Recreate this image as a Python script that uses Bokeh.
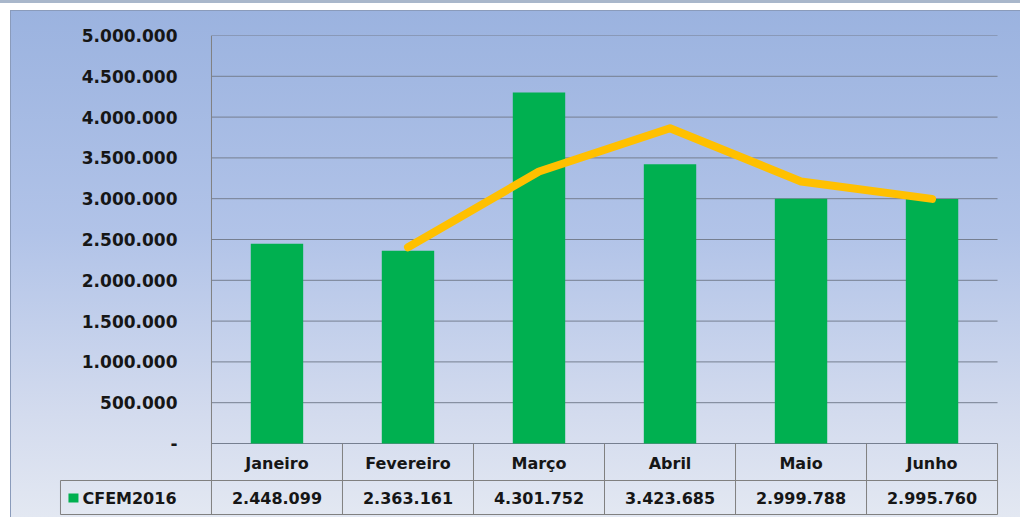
from bokeh.plotting import figure
from bokeh.models import FactorRange, Range1d, FixedTicker
from bokeh.core.properties import value
from bokeh.embed import file_html
from bokeh.resources import INLINE

# ---------------- data ----------------
months = ["Janeiro", "Fevereiro", "Março", "Abril", "Maio", "Junho"]
cfem2016 = [2448099, 2363161, 4301752, 3423685, 2999788, 2995760]
series_name = "CFEM2016"
trend_months = ["Fevereiro", "Março", "Abril", "Maio", "Junho"]
trend_values = [2405630, 3332457, 3862719, 3211737, 2997774]
y_ticks = [0, 500000, 1000000, 1500000, 2000000, 2500000,
           3000000, 3500000, 4000000, 4500000, 5000000]
y_tick_labels = ["-", "500.000", "1.000.000", "1.500.000", "2.000.000", "2.500.000",
                 "3.000.000", "3.500.000", "4.000.000", "4.500.000", "5.000.000"]


def fmt(v):
    return f"{v:,}".replace(",", ".")


# ---------------- layout constants ----------------
W, H = 1020, 517
B_LEFT, B_RIGHT, B_TOP, B_BOTTOM = 59, 2, 35, 0
COL_PX = 131.0                     # pixel width of one month column
CELL_LEFT = 1.0 - 151.0 / COL_PX   # left edge of the row-header cell (synthetic coords)
Y_END = 5000000
UPP = 5000000 / 408.0              # value units per pixel
Y_START = -74 * UPP
Y_HEADER = -37 * UPP
Y_TBOTTOM = -71 * UPP
FONT = "DejaVu Sans"
TABLE_LINE = "#808080"
GRID_LINE = "#767f90"
TXT = "#161616"

factors = [series_name] + months
n = len(months)
x_first = 1.0                      # synthetic left edge of the first month column
x_last = 1.0 + n                   # synthetic right edge of the last month column

p = figure(
    width=W, height=H,
    x_range=FactorRange(factors=factors, range_padding=0.16, range_padding_units="absolute"),
    y_range=Range1d(Y_START, Y_END),
    x_axis_location=None,
    output_backend="svg", toolbar_location=None,
    min_border_left=B_LEFT, min_border_right=B_RIGHT,
    min_border_top=B_TOP, min_border_bottom=B_BOTTOM,
)
p.styles = {
    "background": "linear-gradient(to bottom, #9ab2df 0%, #b1c3e8 45%, #d3dbee 80%, #e3e8f2 100%)",
    "box-shadow": "inset 0 3px 0 #a9b7cb, inset 10px 10px 0 #ffffff, inset 11px 11px 0 #8a9bbb",
}
p.border_fill_alpha = 0
p.background_fill_alpha = 0
p.outline_line_color = None
p.xgrid.visible = False
p.ygrid.visible = False

# y axis (labels pulled right, into the frame area, by a negative standoff)
p.yaxis.ticker = FixedTicker(ticks=y_ticks)
p.yaxis.major_label_overrides = {t: l for t, l in zip(y_ticks, y_tick_labels)}
p.yaxis.major_label_text_font = FONT
p.yaxis.major_label_text_font_style = "bold"
p.yaxis.major_label_text_font_size = "17px"
p.yaxis.major_label_text_color = TXT
p.yaxis.axis_line_color = None
p.yaxis.major_tick_line_color = None
p.yaxis.minor_tick_line_color = None
p.yaxis.major_tick_out = 0
p.yaxis.major_tick_in = 0
p.yaxis.major_label_standoff = -118

# horizontal gridlines over the month columns only
p.segment(x0=[x_first] * len(y_ticks), y0=y_ticks, x1=[x_last] * len(y_ticks), y1=y_ticks,
          line_color=GRID_LINE, line_width=1)

# bars
p.vbar(x=months, top=cfem2016, width=0.4, fill_color="#00B050", line_color=None)

# trend line
p.line(x=trend_months, y=trend_values, line_color="#FFC000", line_width=8,
       line_cap="round", line_join="round")

# ---------------- data table ----------------
bounds = [x_first + i for i in range(1, n + 1)]
p.segment(x0=bounds, y0=[Y_TBOTTOM] * n, x1=bounds, y1=[0] * n,
          line_color=TABLE_LINE, line_width=1)
p.segment(x0=[x_first], y0=[Y_TBOTTOM], x1=[x_first], y1=[Y_END],
          line_color=TABLE_LINE, line_width=1)
p.segment(x0=[CELL_LEFT], y0=[Y_TBOTTOM], x1=[CELL_LEFT], y1=[Y_HEADER],
          line_color=TABLE_LINE, line_width=1)
p.segment(x0=[CELL_LEFT, CELL_LEFT], y0=[Y_HEADER, Y_TBOTTOM], x1=[x_last, x_last],
          y1=[Y_HEADER, Y_TBOTTOM], line_color=TABLE_LINE, line_width=1)

hdr_y = (0 + Y_HEADER) / 2 - 1.0 * UPP
val_y = (Y_HEADER + Y_TBOTTOM) / 2 - 0.5 * UPP
p.text(x=months, y=[hdr_y] * n, text=months, text_align="center", text_baseline="middle",
       text_font=value(FONT), text_font_style="bold", text_font_size="16px",
       text_color=TXT)
p.text(x=months, y=[val_y] * n, text=[fmt(v) for v in cfem2016], text_align="center",
       text_baseline="middle", text_font=value(FONT), text_font_style="bold",
       text_font_size="16px", text_color=TXT)

# row header cell: legend square + series name
p.rect(x=[CELL_LEFT + 13.0 / COL_PX], y=[val_y], width=10, height=9,
       width_units="screen", height_units="screen", fill_color="#00B050", line_color=None)
p.text(x=[CELL_LEFT + 22.0 / COL_PX], y=[val_y], text=[series_name], text_align="left",
       text_baseline="middle", text_font=value(FONT), text_font_style="bold",
       text_font_size="16px", text_color=TXT)

open("out.html", "w").write(file_html(p, INLINE))
